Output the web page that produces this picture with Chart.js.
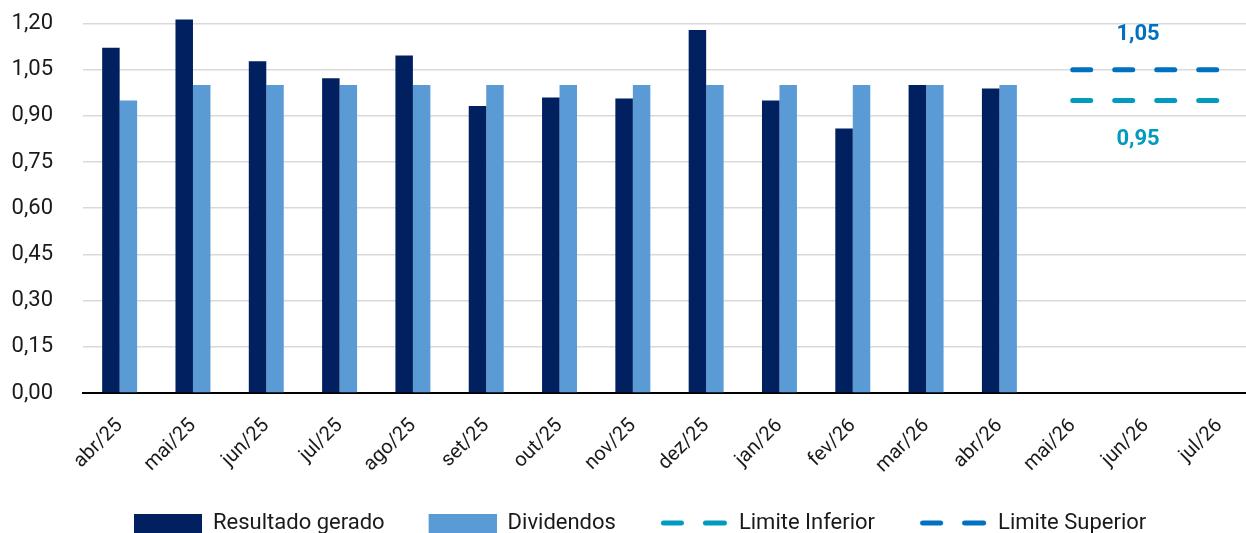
<!DOCTYPE html>
<html><head><meta charset="utf-8">
<script src="https://cdn.jsdelivr.net/npm/chart.js@4/dist/chart.umd.min.js"></script>
<style>html,body{margin:0;padding:0;background:#fff;overflow:hidden}#wrap{width:1256px;height:533px;position:relative}</style>
</head><body><div id="wrap"><canvas id="c"></canvas></div>
<script>
const categories = ['abr/25','mai/25','jun/25','jul/25','ago/25','set/25','out/25','nov/25','dez/25','jan/26','fev/26','mar/26','abr/26','mai/26','jun/26','jul/26'];
const resultadoGerado = [1.121,1.213,1.077,1.022,1.096,0.932,0.960,0.956,1.179,0.950,0.859,1.000,0.989,null,null,null];
const dividendos = [0.95,1.00,1.00,1.00,1.00,1.00,1.00,1.00,1.00,1.00,1.00,1.00,1.00,null,null,null];
const limiteInferior = [null,null,null,null,null,null,null,null,null,null,null,null,null,0.95,0.95,0.95];
const limiteSuperior = [null,null,null,null,null,null,null,null,null,null,null,null,null,1.05,1.05,1.05];
const seriesNames = ['Resultado gerado','Dividendos','Limite Inferior','Limite Superior'];
const yMax = 1.26, yStep = 0.15, yLastTick = 1.20;

const C_RES = '#002060', C_DIV = '#5B9BD5', C_INF = '#009BBE', C_SUP = '#0070C0';
const fmt = v => v.toFixed(2).replace('.', ',');

const LEAD = 15, LEG_PAD = 29, MARK_W = 68;
function boxImg(color){
  const c = document.createElement('canvas'); c.width = LEAD + MARK_W; c.height = 19;
  const x = c.getContext('2d'); x.fillStyle = color; x.fillRect(LEAD,0,MARK_W,19); return c;
}
function dashImg(color){
  const c = document.createElement('canvas'); c.width = LEAD + MARK_W; c.height = 6;
  const x = c.getContext('2d'); x.strokeStyle = color; x.lineWidth = 5; x.lineCap = 'round';
  x.beginPath(); x.moveTo(LEAD+3.5,3); x.lineTo(LEAD+21.5,3); x.moveTo(LEAD+45.5,3); x.lineTo(LEAD+64.5,3); x.stroke(); return c;
}
const legendImgs = [boxImg(C_RES), boxImg(C_DIV), dashImg(C_INF), dashImg(C_SUP)];

const legendShift = { id:'legendShift', afterLayout(chart){ if (chart.legend) chart.legend.left = 134 - LEG_PAD - LEAD; } };
const limitLabels = { id:'limitLabels', afterDatasetsDraw(chart){
  const ctx = chart.ctx; ctx.save();
  ctx.font = 'bold 22px Roboto'; ctx.textAlign = 'center'; ctx.textBaseline = 'middle';
  [[2, C_INF, 39], [3, C_SUP, -35]].forEach(([di, col, dy]) => {
    const ds = chart.data.datasets[di]; const meta = chart.getDatasetMeta(di);
    const idx = ds.data.map((v,i)=>v==null?-1:i).filter(i=>i>=0);
    const mid = idx[Math.floor(idx.length/2)];
    const pt = meta.data[mid];
    ctx.fillStyle = col; ctx.fillText(fmt(ds.data[mid]), pt.x - 8, pt.y + dy);
  });
  ctx.restore();
}};

new Chart(document.getElementById('c'), {
  data: {
    labels: categories,
    datasets: [
      { type:'bar', label: seriesNames[0], data: resultadoGerado, backgroundColor: C_RES, categoryPercentage: 0.477, barPercentage: 1.0 },
      { type:'bar', label: seriesNames[1], data: dividendos, backgroundColor: C_DIV, categoryPercentage: 0.477, barPercentage: 1.0 },
      { type:'line', label: seriesNames[2], data: limiteInferior, borderColor: C_INF, backgroundColor: C_INF, borderWidth: 5, borderDash:[18,24], borderCapStyle:'round', pointRadius:0, spanGaps:false },
      { type:'line', label: seriesNames[3], data: limiteSuperior, borderColor: C_SUP, backgroundColor: C_SUP, borderWidth: 5, borderDash:[18,24], borderCapStyle:'round', pointRadius:0, spanGaps:false }
    ]
  },
  options: {
    responsive: true, maintainAspectRatio: false, animation: false,
    layout: { padding: { top: 5, right: 0, bottom: -11, left: 0 } },
    plugins: {
      tooltip: { enabled: false },
      legend: {
        position: 'bottom', align: 'start',
        labels: {
          usePointStyle: true, pointStyleWidth: LEAD + MARK_W, padding: LEG_PAD, boxHeight: 19,
          color: '#1a1a1a', font: { family: 'Roboto', size: 22 },
          generateLabels(chart){
            const items = Chart.defaults.plugins.legend.labels.generateLabels(chart);
            items.forEach((it,i) => { it.pointStyle = legendImgs[i]; });
            return items;
          }
        }
      }
    },
    scales: {
      x: {
        grid: { display: false, drawTicks: false },
        border: { display: true, color: '#000', width: 2 },
        ticks: { minRotation: 45, maxRotation: 45, autoSkip: false, padding: 21, color: '#1a1a1a', font: { family: 'Roboto', size: 20 } },
        afterFit(s){ s.height = 90; s.paddingLeft = 0; s.paddingRight = 0; }
      },
      y: {
        min: 0, max: yMax, bounds: 'data',
        ticks: { stepSize: yStep, includeBounds: false, padding: 30, color: '#1a1a1a', font: { family: 'Roboto', size: 22 }, callback: v => fmt(v) },
        grid: { drawTicks: false, lineWidth: 1.5, color: ctx => (ctx.tick && ctx.tick.value === 0) ? 'rgba(0,0,0,0)' : '#D9D9D9' },
        border: { display: false },
        afterBuildTicks(s){ s.ticks = s.ticks.filter(t => t.value <= yLastTick + 1e-9); },
        afterFit(s){ s.width = 83; s.paddingTop = 0; s.paddingBottom = 0; }
      }
    }
  },
  plugins: [legendShift, limitLabels]
});
</script></body></html>
